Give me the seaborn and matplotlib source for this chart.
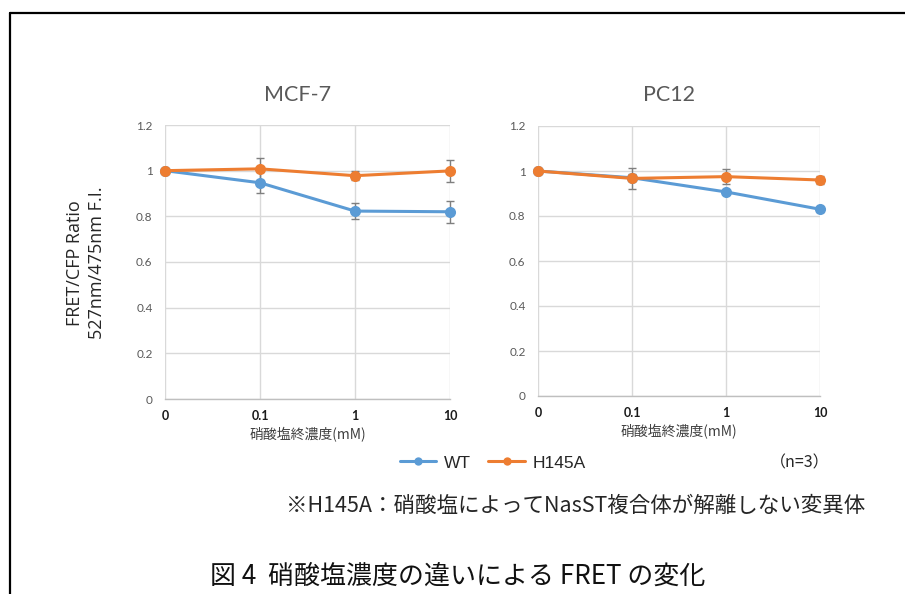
import matplotlib
matplotlib.use("Agg")
import matplotlib.pyplot as plt
import seaborn as sns
import pandas as pd
import numpy as np
from matplotlib.lines import Line2D

# ---- data ----
conc_labels = ["0", "0.1", "1", "10"]
series_names = ["WT", "H145A"]
panel_titles = ["MCF-7", "PC12"]

mcf7_wt = [1.000, 0.947, 0.823, 0.820]
mcf7_wt_err = [0.0, 0.046, 0.035, 0.048]
mcf7_h145a = [1.000, 1.008, 0.978, 0.999]
mcf7_h145a_err = [0.0, 0.047, 0.020, 0.047]

pc12_wt = [1.000, 0.970, 0.907, 0.830]
pc12_wt_err = [0.0, 0.015, 0.010, 0.010]
pc12_h145a = [1.000, 0.967, 0.975, 0.960]
pc12_h145a_err = [0.0, 0.045, 0.033, 0.018]

yticks = [0, 0.2, 0.4, 0.6, 0.8, 1.0, 1.2]
ytick_labels = ["0", "0.2", "0.4", "0.6", "0.8", "1", "1.2"]

colors = {"WT": "#5B9BD5", "H145A": "#ED7D31"}

rows = []
for title, wt, wte, h, he in [
    ("MCF-7", mcf7_wt, mcf7_wt_err, mcf7_h145a, mcf7_h145a_err),
    ("PC12", pc12_wt, pc12_wt_err, pc12_h145a, pc12_h145a_err),
]:
    for i in range(len(conc_labels)):
        rows.append(dict(panel=title, pos=i, series="WT", value=wt[i], err=wte[i]))
        rows.append(dict(panel=title, pos=i, series="H145A", value=h[i], err=he[i]))
df = pd.DataFrame(rows)

sns.set_theme(style="white")
plt.rcParams["font.family"] = ["Lato", "Noto Sans CJK JP", "DejaVu Sans"]

fig = plt.figure(figsize=(9.05, 5.94), dpi=100)
fig.patch.set_facecolor("white")

W, H = 905, 594
def ax_rect(l, r, t, b):
    return [l / W, 1 - b / H, (r - l) / W, (b - t) / H]

axes = [fig.add_axes(ax_rect(165, 450, 125, 399)),
        fig.add_axes(ax_rect(538, 820, 126, 396))]
title_x = [298, 669]

grid_c = "#D9D9D9"
cjk = ["Noto Sans CJK JP", "DejaVu Sans"]

for ax, title, tx in zip(axes, panel_titles, title_x):
    sub = df[df.panel == title]
    # error bars
    for s in series_names:
        d = sub[sub.series == s]
        ax.errorbar(d.pos, d.value, yerr=d.err, fmt="none", ecolor="#7F7F7F",
                    elinewidth=1.0, capsize=3, capthick=1.0, zorder=4, clip_on=False)
    sns.lineplot(data=sub, x="pos", y="value", hue="series", hue_order=series_names,
                 palette=colors, marker="o", markersize=8, markeredgewidth=0,
                 linewidth=2.2, ax=ax, legend=(title == "MCF-7"), zorder=5,
                 clip_on=False)
    ax.set_xlim(0, 3)
    ax.set_ylim(0, 1.2)
    ax.set_xticks(range(len(conc_labels)))
    ax.set_xticklabels(conc_labels, fontsize=9, color="#1A1A1A", fontweight="bold")
    ax.set_yticks(yticks)
    ax.set_yticklabels(ytick_labels, fontsize=8.5, color="#595959")
    ax.tick_params(axis="x", pad=8, length=0)
    ax.tick_params(axis="y", pad=9, length=0)
    ax.grid(True, color=grid_c, linewidth=1.0)
    ax.set_axisbelow(True)
    for sp in ["top", "right", "left"]:
        ax.spines[sp].set_visible(False)
    ax.spines["bottom"].set_color("#BFBFBF")
    ax.spines["bottom"].set_linewidth(1.0)
    ax.set_xlabel("硝酸塩終濃度(mM)", fontsize=10, color="#404040",
                  family=cjk, labelpad=4)
    ax.set_ylabel("")
    fig.text(tx / W, 1 - 95 / H, title, ha="center", va="center",
             fontsize=15.5, color="#595959")

# legend
handles, labels = axes[0].get_legend_handles_labels()
axes[0].get_legend().remove()
for h in handles:
    h.set_markersize(6)
fig.legend(handles, labels, loc="center left", bbox_to_anchor=(384 / W, 1 - 463 / H),
           ncol=2, frameon=False, prop={"family": "Liberation Sans", "size": 12.5},
           handlelength=2.1, handletextpad=0.46, columnspacing=1.0)

fig.text(800 / W, 1 - 463 / H, "（n=3）", ha="center", va="center",
         fontsize=11.5, family=cjk, color="#262626")

# y label
fig.text(86 / W, 1 - 263 / H, "FRET/CFP Ratio\n527nm/475nm F.I.", rotation=90,
         ha="center", va="center", fontsize=13, color="#262626",
         family=["Open Sans", "DejaVu Sans"], linespacing=1.25)

# note and caption
fig.text(576 / W, 1 - 506 / H, "※H145A：硝酸塩によってNasST複合体が解離しない変異体",
         ha="center", va="center", fontsize=15.5, family=cjk, color="#262626")
fig.text(458 / W, 1 - 576 / H, "図 4  硝酸塩濃度の違いによる FRET の変化",
         ha="center", va="center", fontsize=18.7, family=cjk, color="#111111")

# frame lines
fig.add_artist(Line2D([10 / W, 1.0], [1 - 13 / H, 1 - 13 / H], color="black",
                      linewidth=1.6, transform=fig.transFigure))
fig.add_artist(Line2D([10 / W, 10 / W], [0, 1 - 13 / H], color="black",
                      linewidth=1.6, transform=fig.transFigure))

fig.savefig("out.png", dpi=100)
